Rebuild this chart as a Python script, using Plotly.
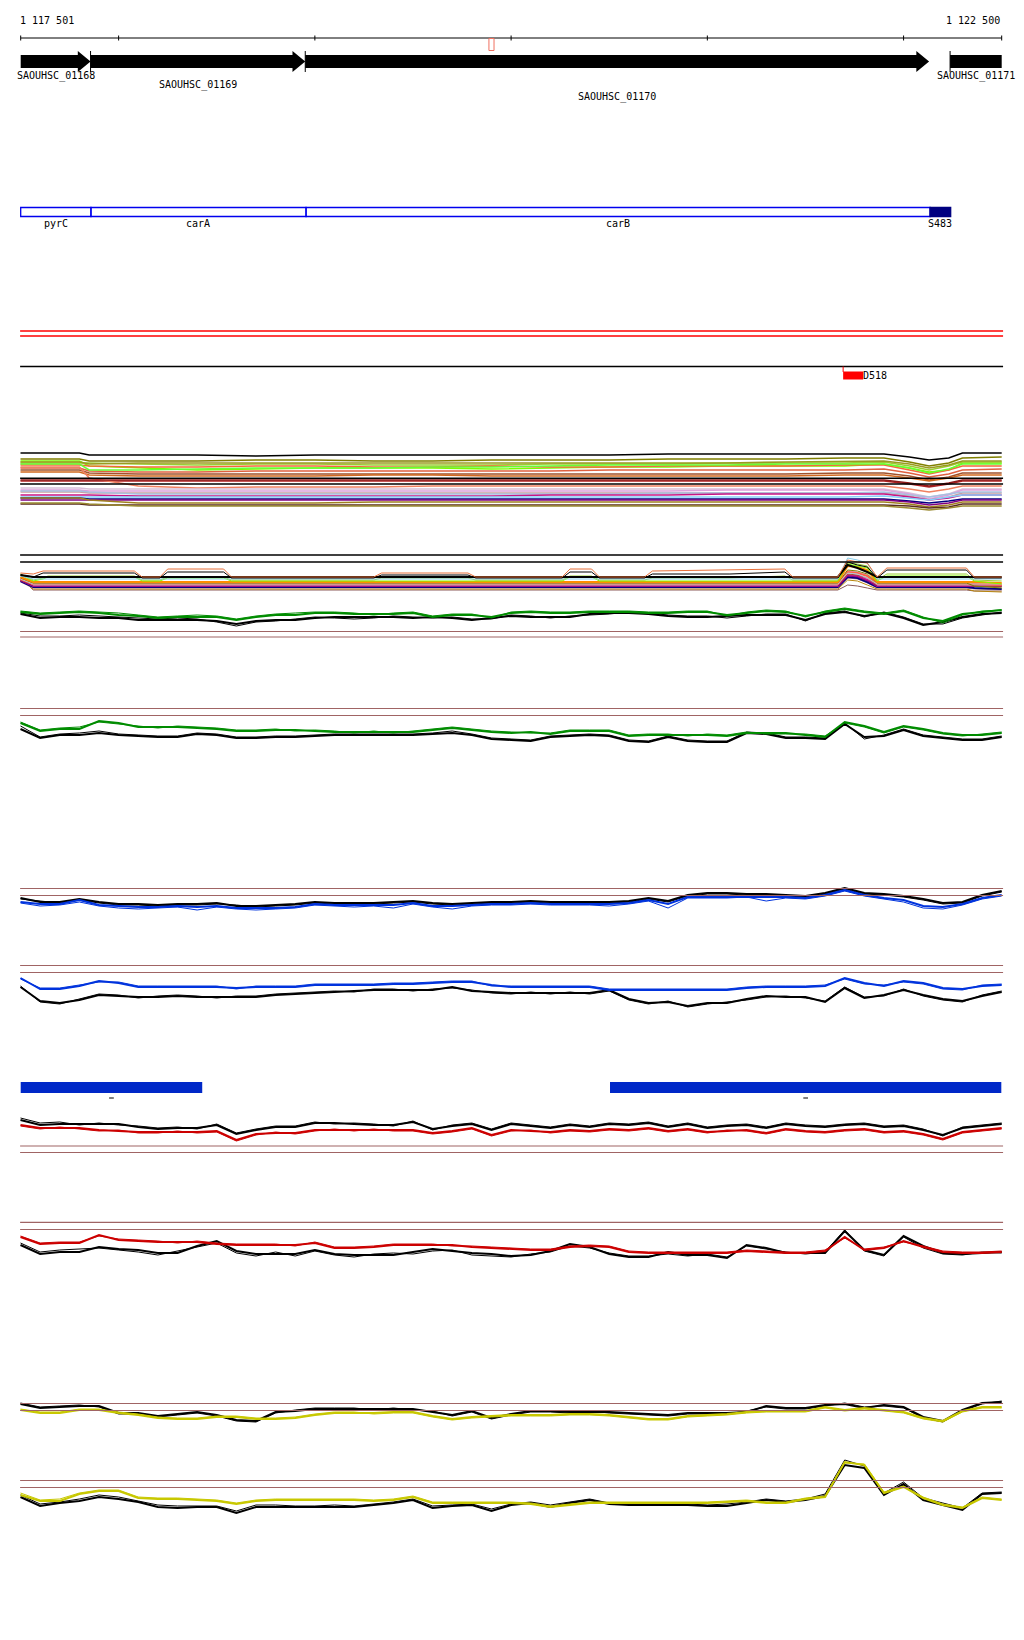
import plotly.graph_objects as go

# ---------------- data ----------------
VIEW_START = 1117501
VIEW_END = 1122500
RULER_TICKS = [1117501, 1118000, 1119000, 1120000, 1121000, 1122000, 1122500]
RULER_LABELS = ["1 117 501", "1 122 500"]
MARKER_RANGE = [1119887, 1119913]

GENE_NAMES = ["SAOUHSC_01168", "SAOUHSC_01169", "SAOUHSC_01170", "SAOUHSC_01171"]
GENE_STARTS = [1117200, 1117857, 1118951, 1122237]
GENE_ENDS = [1117857, 1118951, 1122130, 1122900]

DOMAIN_NAMES = ["pyrC", "carA", "carB", "S483"]
DOMAIN_STARTS = [1117501, 1117859, 1118955, 1122135]
DOMAIN_ENDS = [1117859, 1118955, 1122135, 1122240]
DOMAIN_FILLED = [False, False, False, True]

VAR_NAMES = ["D518"]
VAR_STARTS = [1121692]
VAR_ENDS = [1121794]

BLOCK_STARTS = [1117501, 1120504]
BLOCK_ENDS = [1118426, 1122498]

# signal grid (every 100 bp)
GRID_X = [1117500 + 100 * i for i in range(51)]

A_COL_THICK = [28,26,27,28,27,25,24,22,23,23,23,20,23,25,25,27,27,26,26,26,27,23,25,25,23,27,28,27,27,28,28,28,27,27,28,28,25,27,29,28,24,28,31,28,26,29,22,19,26,28,30]
A_COL_THIN = [29,27,28,29,28,27,25,23,24,25,24,21,24,26,27,28,28,27,25,27,28,24,26,26,22,28,29,28,28,29,29,29,28,28,29,29,24,28,30,29,23,29,32,29,27,30,23,17,25,29,30]
A_BLK_THICK = [26,22,23,23,22,22,20,20,20,20,19,16,19,20,20,22,23,23,23,23,22,23,22,20,22,24,23,23,23,26,27,27,26,24,23,23,24,25,25,25,20,26,28,24,27,22,15,18,23,26,27]
A_BLK_THIN = [27,24,24,25,24,23,22,21,22,21,18,14,18,19,21,23,22,21,22,24,23,22,23,21,21,25,24,22,24,25,26,28,27,25,24,24,22,24,26,26,19,27,29,23,28,23,16,16,22,25,28]
A_THRESH = [8.5, 3]

B_COL_THICK = [27,19,21,21,29,27,23,23,23,22,21,19,19,20,20,19,18,18,18,18,18,20,22,20,18,17,18,16,19,19,19,14,15,15,15,15,14,17,17,17,15,13,28,24,18,24,21,17,15,15,17]
B_COL_THIN = [28,20,22,23,28,26,24,22,24,23,22,20,20,21,19,20,19,17,19,17,19,21,23,21,19,18,17,17,20,20,20,15,16,16,14,16,15,18,16,16,16,14,27,23,17,23,20,16,14,16,18]
B_BLK_THICK = [21,12,15,15,17,15,14,13,13,16,15,12,12,13,13,14,15,15,15,15,15,16,17,15,11,10,9,13,14,15,14,9,8,13,9,8,8,17,16,12,12,11,26,13,14,20,14,12,10,10,13]
B_BLK_THIN = [24,13,16,17,19,16,15,14,14,17,16,13,13,14,14,15,16,16,16,16,16,17,19,16,12,11,10,14,15,16,15,10,9,14,10,9,9,18,17,13,13,12,27,11,15,21,15,13,11,11,14]
B_THRESH = [41.5, 34.5]

C_COL_THICK = [18,16,16,20,15,14,13,13,14,13,14,12,12,12,13,16,15,15,15,15,17,14,14,15,16,16,17,16,16,16,16,17,20,16,23,23,23,23,23,23,22,25,30,25,22,20,14,13,16,22,25]
C_COL_THIN = [17,14,15,18,14,12,11,12,13,10,13,11,10,11,12,15,14,13,14,12,16,13,11,14,15,15,16,15,15,15,14,16,19,12,22,22,22,23,19,22,21,24,29,24,21,18,12,11,15,21,24]
C_BLK_THICK = [22,18,18,21,18,16,16,15,16,16,17,14,14,15,16,18,17,17,17,18,19,17,16,17,18,18,19,18,18,18,18,19,22,19,25,27,27,26,26,25,24,27,32,27,26,24,21,17,18,25,29]
C_BLK_THIN = [21,19,17,20,17,15,15,14,15,15,16,15,13,14,15,17,16,16,16,17,18,16,15,16,17,17,18,17,17,17,17,18,21,18,24,26,26,25,25,24,23,26,31,26,25,23,20,16,17,24,28]
C_THRESH = [31.5, 24.5]

D_COL_THICK = [32,21,21,24,29,27,23,23,23,23,23,22,23,23,23,25,25,25,25,26,26,27,28,28,25,23,23,23,23,23,20,20,20,20,20,20,20,22,23,23,23,24,32,27,24,29,27,22,21,24,25]
D_COL_THIN = [31,22,22,25,28,28,24,24,24,24,24,21,24,24,24,26,26,26,26,27,27,28,29,29,24,24,24,24,24,24,21,21,21,21,21,21,21,23,24,24,24,25,31,26,25,28,26,21,20,25,26]
D_BLK_THICK = [23,9,7,10,15,14,13,13,14,13,13,13,13,15,16,17,18,19,20,20,20,20,23,19,18,17,17,17,17,17,20,11,7,8,4,7,7,11,14,13,13,8,22,12,15,20,15,11,9,14,18]
D_BLK_THIN = [24,8,6,11,16,15,12,14,15,14,12,14,14,16,17,18,19,18,21,21,19,21,22,20,17,16,18,16,18,16,19,10,6,9,3,6,8,10,13,14,12,9,23,13,14,21,14,10,8,15,19]
D_THRESH = [44.5, 37.5]

F_COL_THICK = [35,32,32,32,30,29,28,28,28,28,29,20,26,27,27,30,30,30,30,30,30,27,29,32,25,30,29,28,30,29,31,30,32,29,31,28,29,30,27,31,29,28,30,31,28,29,26,21,28,30,32]
F_COL_THIN = [34,31,33,31,29,30,27,27,29,27,28,19,25,28,26,29,31,29,31,29,29,26,28,31,24,29,30,27,29,28,30,29,31,28,30,27,30,29,26,30,28,27,29,30,27,28,25,20,27,29,31]
F_BLK_THICK = [40,35,36,36,36,36,33,31,32,32,35,26,30,33,33,37,37,36,35,35,38,31,34,36,30,36,34,32,35,33,36,35,37,33,36,32,34,35,32,36,34,33,35,36,33,34,30,25,32,34,36]
F_BLK_THIN = [42,37,38,35,37,35,34,32,33,31,36,27,31,34,34,38,36,37,36,34,39,30,35,37,31,37,35,33,36,34,37,36,38,34,37,33,35,36,33,37,35,34,36,37,34,35,31,24,33,35,37]
F_THRESH = [14, 7.5]

G_COL_THICK = [33,26,27,27,35,30,29,28,28,28,26,25,25,25,25,27,22,22,23,25,25,25,25,23,22,21,20,20,23,24,23,18,17,17,17,17,17,19,18,17,17,19,33,20,22,29,23,18,17,17,18]
G_COL_THIN = [34,27,28,28,34,31,30,29,27,29,27,26,26,26,24,28,23,23,24,26,26,26,24,24,23,22,21,21,24,25,24,19,18,18,18,18,18,20,19,18,18,20,32,21,23,28,24,19,18,18,19]
G_BLK_THICK = [25,16,18,18,23,21,20,17,17,24,29,19,16,16,16,20,16,15,15,15,18,21,19,17,16,14,15,19,26,23,16,13,13,18,15,15,12,25,22,17,17,17,39,20,15,34,24,17,16,17,18]
G_BLK_THIN = [27,18,20,21,22,20,18,15,19,23,27,17,14,18,14,19,15,13,16,17,16,19,20,15,14,13,16,18,24,22,17,14,14,16,14,16,13,24,21,18,16,18,40,19,14,33,22,16,15,18,17]
G_THRESH = [47.7, 40.5]

H_COL_THICK = [20,17,17,20,20,17,15,12,11,11,13,13,11,11,12,15,17,17,17,18,18,14,11,13,14,15,15,15,16,16,15,13,11,11,14,15,16,18,19,19,19,23,20,22,20,18,12,9,19,23,23]
H_COL_THIN = [21,18,18,21,21,18,16,13,12,12,14,14,12,12,13,16,18,18,16,17,17,13,10,12,13,14,14,14,15,15,14,12,10,10,13,14,15,17,18,18,18,22,19,21,19,17,11,8,18,22,22]
H_BLK_THICK = [26,22,23,24,24,17,17,14,16,18,15,10,9,18,19,21,21,21,21,21,21,18,15,19,12,16,19,19,18,18,18,17,16,15,17,17,17,18,24,22,22,25,26,22,25,23,13,9,20,27,28]
H_BLK_THIN = [27,23,24,25,23,16,16,13,15,17,14,9,8,17,20,22,22,22,20,22,20,19,14,18,11,15,18,18,17,19,17,16,15,14,16,16,16,19,23,21,21,24,27,23,24,22,12,8,19,26,29]
H_THRESH = [26.5, 19.5]

I_COL_THICK = [25,19,19,26,29,29,22,21,21,20,19,16,19,20,20,20,20,20,19,20,23,17,17,17,17,17,16,13,15,17,17,17,17,17,17,17,18,19,17,17,21,23,58,55,27,33,22,15,12,22,20]
I_COL_THIN = [27,20,21,27,30,30,23,22,22,21,20,17,20,21,21,21,21,21,20,21,24,18,18,18,18,18,17,14,16,18,18,18,18,18,18,18,19,20,18,18,22,24,57,56,28,34,23,16,13,23,21]
I_BLK_THICK = [23,14,17,19,23,21,18,13,12,13,13,7,13,13,13,13,13,13,15,17,20,12,14,15,9,15,17,13,17,20,16,15,15,15,15,14,14,17,20,18,20,24,55,52,25,36,20,15,10,26,27]
I_BLK_THIN = [25,16,18,21,25,23,19,15,14,14,14,9,15,15,14,14,15,14,16,18,21,14,15,16,11,16,18,15,18,21,17,16,16,16,16,15,16,18,21,19,21,26,60,54,27,38,22,17,12,27,28]
I_THRESH = [39.5, 32.5]

# multi-sample bundle 1
BUNDLE1_X = [1117500, 1117800, 1117850, 1118100, 1118400, 1118700, 1119000, 1119300, 1119600, 1119900, 1120200,
             1120500, 1120800, 1121100, 1121400, 1121700, 1121900, 1122030, 1122130, 1122230, 1122300, 1122500]
BUNDLE1_LINES = [
    [59,59,57,57,57,56,57,57,57,57,57,57,58,58,58,58,58,55,52,54,59,59],
    [53,53,51,51,51,52,52,51,51,52,52,52,53,53,53,54,54,50,46,49,54,55],
    [51,51,46,44,42,43,44,44,44,43,44,45,45,46,46,46,48,44,40,42,49,49],
    [49,49,49,48,47,48,48,47,47,47,48,48,48,49,49,49,50,46,42,46,50,50],
    [47,47,46,45,45,46,46,45,45,46,45,45,46,46,46,47,47,42,38,42,46,46],
    [50,50,48,49,49,49,49,49,49,49,49,49,49,49,50,51,51,48,44,47,51,51],
    [44,44,41,40,40,41,41,41,41,41,41,42,42,42,42,42,43,39,35,38,42,43],
    [42,42,39,38,38,38,38,38,38,38,38,38,38,38,38,39,39,36,32,35,39,39],
    [40,40,37,36,36,36,36,37,37,36,36,36,36,36,36,37,37,34,31,34,37,37],
    [31,31,31,31,31,31,31,31,31,31,31,31,31,31,31,31,31,28,25,28,31,31],
    [45,45,34,26,24,25,25,25,26,26,26,26,26,26,26,26,26,23,20,23,26,26],
    [24,24,23,23,23,23,23,23,23,23,23,23,23,23,23,23,23,19,15,18,23,23],
    [22,22,21,21,21,21,21,21,21,21,21,21,21,22,22,22,22,18,13,17,22,22],
    [20,20,19,19,19,19,19,19,19,19,19,19,19,19,19,19,19,16,12,15,19,19],
    [21,21,20,18,18,18,18,18,18,18,18,18,19,19,19,19,20,17,15,18,20,20],
    [17,17,17,16,16,16,16,16,16,16,17,17,17,18,18,18,18,15,12,14,17,17],
    [15,15,15,15,15,15,15,15,15,15,15,15,15,15,15,15,16,14,12,15,17,17],
    [14,14,13,13,13,13,13,13,13,13,13,13,13,13,13,13,13,11,9,11,13,13],
    [12,12,12,12,12,12,12,12,12,12,12,12,12,12,12,12,12,10,7,9,12,12],
    [14,14,12,9,9,9,9,10,10,10,10,10,10,10,10,10,10,8,5,7,10,10],
    [8,8,7,7,7,7,7,7,7,7,7,7,7,7,7,7,7,6,4,5,8,8],
    [9,9,8,6,6,6,6,6,6,6,6,6,6,6,6,6,6,4,2,4,6,6],
    [48,48,42,42,43,44,44,44,45,45,46,47,47,47,48,48,48,44,39,43,48,48],
    [32,32,32,32,32,32,32,32,32,32,32,32,32,32,32,32,32,29,26,29,32,32],
]
BUNDLE1_COLORS = ["#000000", "#808000", "#7cfc00", "#9acd32", "#f4693a", "#9a9a20", "#e06040", "#a0522d",
                  "#d2691e", "#b22222", "#f08060", "#d8bfd8", "#dda0dd", "#c8a0a0", "#a8c0e0", "#c71585",
                  "#87cefa", "#000080", "#800080", "#a08020", "#5a2d1e", "#9a8a30", "#66ff33", "#8b1a1a"]
BUNDLE1_THRESH = [33.7, 28]

# multi-sample bundle 2
BUNDLE2_X = [1117500, 1117565, 1117615, 1117640, 1118080, 1118120, 1118210, 1118250, 1118535, 1118575, 1119300,
             1119340, 1119780, 1119820, 1120260, 1120300, 1120410, 1120450, 1120680, 1120720, 1121115, 1121395,
             1121435, 1121665, 1121715, 1121765, 1121815, 1121865, 1121915, 1122320, 1122360, 1122500]
BUNDLE2_LINES = [
    [22,10,10,10,10,10,10,10,10,10,10,10,10,10,10,10,10,10,10,10,10,10,10,10,15,14,12,10,10,10,9,9],
    [20,11,11,11,11,11,11,11,11,11,11,11,11,11,11,11,11,11,11,11,11,11,11,11,20,19,15,11,11,11,9,8],
    [18,12,12,12,12,12,12,12,12,12,12,12,12,12,12,12,12,12,12,12,12,12,12,12,22,21,17,12,12,12,11,10],
    [19,13,13,13,13,13,13,13,13,13,13,13,13,13,13,13,13,13,13,13,13,13,13,13,23,22,18,13,13,13,12,11],
    [20,14,14,14,14,14,14,14,14,14,14,14,14,14,14,14,14,14,14,14,14,14,14,14,25,24,20,14,14,14,14,14],
    [19,14,14,14,14,14,14,14,14,14,14,14,14,14,14,14,14,14,14,14,14,14,14,14,24,23,19,14,14,14,14,14],
    [20,15,15,15,15,15,15,15,15,15,15,15,15,15,15,15,15,15,15,15,15,15,15,15,26,25,22,15,15,15,14,13],
    [22,15,15,15,15,15,15,15,15,15,15,15,15,15,15,15,15,15,15,15,15,15,15,15,29,28,25,15,15,15,15,15],
    [21,16,16,16,16,16,16,16,16,16,16,16,16,16,16,16,16,16,16,16,16,16,16,16,28,27,24,16,16,16,16,15],
    [21,16,16,16,16,16,16,16,16,16,16,16,16,16,16,16,16,16,16,16,16,16,16,16,27,26,22,16,16,16,16,16],
    [22,17,17,17,17,17,17,17,17,17,17,17,17,17,17,17,17,17,17,17,17,17,17,17,30,29,26,17,17,17,14,12],
    [23,18,18,18,18,18,18,18,18,18,18,18,18,18,18,18,18,18,18,18,18,18,18,18,34,33,30,18,18,18,18,17],
    [25,19,21,23,23,19,19,22,22,19,19,19,19,19,19,23,23,19,19,19,19,19,19,19,36,34,32,19,24,24,19,16],
    [26,20,22,24,24,20,20,23,23,20,20,22,22,20,20,24,24,20,20,22,22,24,20,20,37,36,34,20,26,26,20,19],
    [24,21,21,21,21,21,21,21,21,21,21,21,21,21,21,21,21,21,21,21,21,21,21,21,42,40,37,21,21,21,21,21],
    [25,23,23,23,23,23,23,23,23,23,23,23,23,23,23,23,23,23,23,23,23,23,23,23,35,32,28,23,23,23,23,23],
    [25,23,27,27,27,22,22,28,28,22,22,25,25,22,22,28,28,22,22,26,26,28,22,22,38,35,33,22,30,30,22,22],
    [27,26,29,29,29,23,23,31,31,23,23,27,27,23,23,31,31,23,23,29,30,31,23,23,40,38,37,23,32,32,23,23],
]
BUNDLE2_COLORS = ["#8b5a5a", "#b8860b", "#bc8f8f", "#000080", "#c71585", "#800080", "#a0522d", "#dda0dd",
                  "#ff6347", "#b0c4de", "#808000", "#ff8c00", "#7fff00", "#9acd32", "#87ceeb", "#000000",
                  "#000000", "#e8703a"]
BUNDLE2_WIDTHS = [1, 1, 1, 2, 2, 1, 1, 1, 2, 1, 1, 2, 1, 1, 1, 2, 1, 1]
BUNDLE2_THRESH = [45, 38]

# ---------------- layout helpers ----------------
FIG_W, FIG_H = 1008, 1624
OFF = 8
PX_PER_BP = 981 / 4999
X0 = VIEW_START - (20.7 - OFF) / PX_PER_BP
X1 = X0 + FIG_W / PX_PER_BP
FONT = "DejaVu Sans Mono"
BROWN = "#a06464"


def pf(p):
    return 1 - (p - OFF) / FIG_H


fig = go.Figure()
shapes = []
annos = []

# ---------------- ruler ----------------
shapes.append(dict(type="line", xref="x", yref="paper", x0=VIEW_START, x1=VIEW_END, y0=pf(38), y1=pf(38),
                   line=dict(color="black", width=1)))
for t in RULER_TICKS:
    shapes.append(dict(type="line", xref="x", yref="paper", x0=t, x1=t, y0=pf(35.5), y1=pf(40.5),
                       line=dict(color="black", width=1)))
annos.append(dict(x=VIEW_START, y=pf(20), xref="x", yref="paper", text=RULER_LABELS[0], xanchor="left",
                  yanchor="middle", showarrow=False, xshift=-3, font=dict(family=FONT, size=10, color="black")))
annos.append(dict(x=VIEW_END, y=pf(20), xref="x", yref="paper", text=RULER_LABELS[1], xanchor="right",
                  yanchor="middle", showarrow=False, font=dict(family=FONT, size=10, color="black")))
shapes.append(dict(type="rect", xref="x", yref="paper", x0=MARKER_RANGE[0], x1=MARKER_RANGE[1],
                   y0=pf(38.5), y1=pf(50.5), line=dict(color="#f07060", width=1), fillcolor="rgba(0,0,0,0)"))

# ---------------- genes ----------------
HEAD_BP = 65
LABEL_ROWS = [76, 85, 97, 76]
for name, s, e, row in zip(GENE_NAMES, GENE_STARTS, GENE_ENDS, LABEL_ROWS):
    cs, ce = max(s, VIEW_START), min(e, VIEW_END)
    if e <= VIEW_END:
        hb = ce - HEAD_BP
        path = (f"M {cs},{pf(55)} L {hb},{pf(55)} L {hb},{pf(51)} L {ce},{pf(61.5)} "
                f"L {hb},{pf(72)} L {hb},{pf(68)} L {cs},{pf(68)} Z")
    else:
        path = f"M {cs},{pf(55)} L {ce},{pf(55)} L {ce},{pf(68)} L {cs},{pf(68)} Z"
    shapes.append(dict(type="path", xref="x", yref="paper", path=path, fillcolor="black",
                       line=dict(color="black", width=0)))
    if s >= VIEW_START:
        shapes.append(dict(type="line", xref="x", yref="paper", x0=s, x1=s, y0=pf(51), y1=pf(72),
                           line=dict(color="black", width=1)))
    annos.append(dict(x=(cs + ce) / 2, y=pf(row), xref="x", yref="paper", text=name, showarrow=False,
                      xanchor="center", yanchor="middle", font=dict(family=FONT, size=10, color="black")))

# ---------------- domains ----------------
for name, s, e, filled in zip(DOMAIN_NAMES, DOMAIN_STARTS, DOMAIN_ENDS, DOMAIN_FILLED):
    shapes.append(dict(type="rect", xref="x", yref="paper", x0=s, x1=e, y0=pf(216.5), y1=pf(207.5),
                       line=dict(color="#0000ee" if not filled else "#000080", width=1.3),
                       fillcolor="#000080" if filled else "rgba(0,0,0,0)"))
    annos.append(dict(x=(s + e) / 2, y=pf(224), xref="x", yref="paper", text=name, showarrow=False,
                      xanchor="center", yanchor="middle", font=dict(family=FONT, size=10, color="black")))

# ---------------- red / black single lines, variant ----------------
for yy in (331, 336):
    shapes.append(dict(type="line", xref="x", yref="paper", x0=VIEW_START - 3, x1=VIEW_END + 7, y0=pf(yy),
                       y1=pf(yy), line=dict(color="#ff0000", width=1.5)))
shapes.append(dict(type="line", xref="x", yref="paper", x0=VIEW_START - 3, x1=VIEW_END + 7, y0=pf(366.5),
                   y1=pf(366.5), line=dict(color="black", width=1.5)))
for name, s, e in zip(VAR_NAMES, VAR_STARTS, VAR_ENDS):
    shapes.append(dict(type="rect", xref="x", yref="paper", x0=s, x1=e, y0=pf(379.5), y1=pf(371.5),
                       fillcolor="#ff0000", line=dict(width=0)))
    shapes.append(dict(type="line", xref="x", yref="paper", x0=s, x1=s, y0=pf(366.5), y1=pf(372),
                       line=dict(color="#ff0000", width=1)))
    annos.append(dict(x=e, y=pf(376), xref="x", yref="paper", text=name, showarrow=False, xanchor="left",
                      yanchor="middle", xshift=-2, font=dict(family=FONT, size=10, color="black")))

# ---------------- blue blocks ----------------
for s, e in zip(BLOCK_STARTS, BLOCK_ENDS):
    shapes.append(dict(type="rect", xref="x", yref="paper", x0=s, x1=e, y0=pf(1093), y1=pf(1082),
                       fillcolor="#0028c8", line=dict(width=0)))
    mid = (s + e) / 2
    shapes.append(dict(type="line", xref="x", yref="paper", x0=mid - 12, x1=mid + 12, y0=pf(1098),
                       y1=pf(1098), line=dict(color="black", width=1)))

# ---------------- signal tracks ----------------
layout_axes = {}
axis_counter = [0]


def new_axis(top, bottom):
    axis_counter[0] += 1
    n = axis_counter[0]
    key = "yaxis" if n == 1 else f"yaxis{n}"
    ref = "y" if n == 1 else f"y{n}"
    layout_axes[key] = dict(domain=[pf(bottom), pf(top)], range=[0, bottom - top], visible=False,
                            anchor="x", fixedrange=True)
    return ref


def add_thresholds(ref, levels, color, width=1):
    for lv in levels:
        shapes.append(dict(type="line", xref="x", yref=ref, x0=VIEW_START - 3, x1=VIEW_END + 7, y0=lv, y1=lv,
                           line=dict(color=color, width=width)))


def add_line(ref, xs, ys, color, width):
    fig.add_trace(go.Scatter(x=xs, y=ys, mode="lines", xaxis="x", yaxis=ref, hoverinfo="skip",
                             line=dict(color=color, width=width, shape="linear")))


# bundle 1
ref = new_axis(445, 512)
for ys, c in zip(BUNDLE1_LINES, BUNDLE1_COLORS):
    add_line(ref, BUNDLE1_X, ys, c, 1.6)
add_thresholds(ref, BUNDLE1_THRESH, "black", 1.5)

# bundle 2
ref = new_axis(550, 600)
add_thresholds(ref, BUNDLE2_THRESH, "black", 1.5)
for ys, c, w in zip(BUNDLE2_LINES, BUNDLE2_COLORS, BUNDLE2_WIDTHS):
    add_line(ref, BUNDLE2_X, ys, c, w)

TRACKS = [
    (595, 640, "#008c00", A_COL_THICK, A_COL_THIN, A_BLK_THICK, A_BLK_THIN, A_THRESH),
    (700, 750, "#008c00", B_COL_THICK, B_COL_THIN, B_BLK_THICK, B_BLK_THIN, B_THRESH),
    (880, 920, "#0033dd", C_COL_THICK, C_COL_THIN, C_BLK_THICK, C_BLK_THIN, C_THRESH),
    (960, 1010, "#0033dd", D_COL_THICK, D_COL_THIN, D_BLK_THICK, D_BLK_THIN, D_THRESH),
    (1110, 1160, "#cc0000", F_COL_THICK, F_COL_THIN, F_BLK_THICK, F_BLK_THIN, F_THRESH),
    (1215, 1270, "#cc0000", G_COL_THICK, G_COL_THIN, G_BLK_THICK, G_BLK_THIN, G_THRESH),
    (1395, 1430, "#c8c800", H_COL_THICK, H_COL_THIN, H_BLK_THICK, H_BLK_THIN, H_THRESH),
    (1455, 1520, "#c8c800", I_COL_THICK, I_COL_THIN, I_BLK_THICK, I_BLK_THIN, I_THRESH),
]
for top, bottom, color, ct, cn, bt, bn, th in TRACKS:
    ref = new_axis(top, bottom)
    add_thresholds(ref, th, BROWN, 1.2)
    add_line(ref, GRID_X, bt, "black", 2)
    add_line(ref, GRID_X, bn, "black", 1)
    add_line(ref, GRID_X, ct, color, 2)
    add_line(ref, GRID_X, cn, color, 1)

fig.update_layout(
    width=FIG_W, height=FIG_H,
    margin=dict(l=0, r=0, t=0, b=0, pad=0),
    paper_bgcolor="white", plot_bgcolor="rgba(0,0,0,0)",
    showlegend=False,
    xaxis=dict(range=[X0, X1], domain=[0, 1], visible=False, fixedrange=True),
    shapes=shapes,
    annotations=annos,
    **layout_axes,
)

fig.write_html("out.html", config={"displayModeBar": False})
